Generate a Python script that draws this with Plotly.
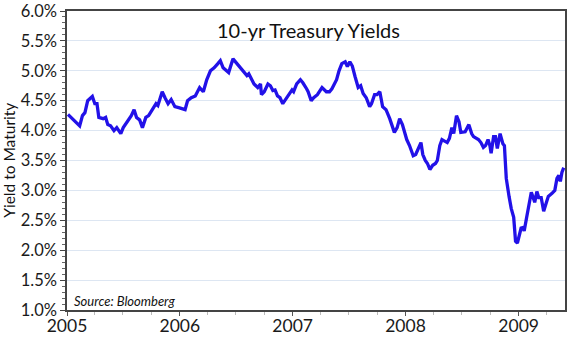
import plotly.graph_objects as go

# Weekly 10-year Treasury yields (%)
dates = [
    "2005-01-04", "2005-02-05", "2005-02-11", "2005-02-20", "2005-02-28", "2005-03-09",
    "2005-03-24", "2005-04-01", "2005-04-08", "2005-04-14", "2005-04-28", "2005-05-06",
    "2005-05-13", "2005-05-22", "2005-06-02", "2005-06-11", "2005-06-24", "2005-07-02",
    "2005-07-16", "2005-07-28", "2005-08-06", "2005-08-14", "2005-08-24", "2005-09-02",
    "2005-09-13", "2005-09-22", "2005-10-04", "2005-10-16", "2005-10-22", "2005-10-31",
    "2005-11-05", "2005-11-14", "2005-11-24", "2005-12-04", "2005-12-16", "2005-12-31",
    "2006-01-18", "2006-01-26", "2006-02-07", "2006-02-20", "2006-03-06", "2006-03-18",
    "2006-03-29", "2006-04-10", "2006-04-22", "2006-05-04", "2006-05-12", "2006-05-21",
    "2006-06-02", "2006-06-08", "2006-06-22", "2006-07-04", "2006-07-13", "2006-07-25",
    "2006-08-06", "2006-08-12", "2006-08-29", "2006-09-10", "2006-09-19", "2006-09-22",
    "2006-10-01", "2006-10-13", "2006-10-21", "2006-10-29", "2006-11-05", "2006-11-13",
    "2006-11-21", "2006-11-30", "2006-12-12", "2006-12-21", "2006-12-30", "2007-01-04",
    "2007-01-14", "2007-01-26", "2007-02-03", "2007-02-15", "2007-02-20", "2007-03-02",
    "2007-03-10", "2007-03-22", "2007-04-06", "2007-04-20", "2007-04-30", "2007-05-08",
    "2007-05-23", "2007-05-31", "2007-06-09", "2007-06-20", "2007-06-27", "2007-07-05",
    "2007-07-13", "2007-07-22", "2007-08-01", "2007-08-09", "2007-08-17", "2007-08-27",
    "2007-09-07", "2007-09-13", "2007-09-23", "2007-10-01", "2007-10-10", "2007-10-19",
    "2007-10-30", "2007-11-11", "2007-11-17", "2007-11-26", "2007-12-05", "2007-12-13",
    "2007-12-22", "2008-01-05", "2008-01-14", "2008-01-26", "2008-02-03", "2008-02-11",
    "2008-02-20", "2008-02-26", "2008-03-05", "2008-03-12", "2008-03-20", "2008-03-29",
    "2008-04-07", "2008-04-13", "2008-04-21", "2008-04-28", "2008-05-06", "2008-05-15",
    "2008-05-22", "2008-05-30", "2008-06-05", "2008-06-14", "2008-06-22", "2008-06-28",
    "2008-07-12", "2008-07-24", "2008-08-02", "2008-08-08", "2008-08-24", "2008-09-01",
    "2008-09-09", "2008-09-16", "2008-09-24", "2008-09-30", "2008-10-04", "2008-10-12",
    "2008-10-18", "2008-10-24", "2008-11-02", "2008-11-11", "2008-11-16", "2008-11-22",
    "2008-12-01", "2008-12-08", "2008-12-16", "2008-12-22", "2008-12-28", "2009-01-05",
    "2009-01-09", "2009-01-15", "2009-01-19", "2009-01-27", "2009-02-05", "2009-02-11",
    "2009-02-19", "2009-02-22", "2009-03-01", "2009-03-07", "2009-03-15", "2009-03-23",
    "2009-04-01", "2009-04-07", "2009-04-19", "2009-04-28", "2009-05-05", "2009-05-11",
    "2009-05-16", "2009-05-21", "2009-05-27",
]
yields = [
    4.27, 4.10, 4.08, 4.25, 4.30, 4.50,
    4.57, 4.45, 4.45, 4.22, 4.20, 4.22,
    4.10, 4.08, 4.00, 4.05, 3.95, 4.05,
    4.15, 4.25, 4.35, 4.22, 4.18, 4.05,
    4.22, 4.25, 4.35, 4.45, 4.42, 4.60,
    4.65, 4.55, 4.45, 4.52, 4.40, 4.38,
    4.35, 4.50, 4.55, 4.58, 4.72, 4.65,
    4.85, 5.00, 5.05, 5.12, 5.17, 5.05,
    5.00, 4.97, 5.20, 5.12, 5.08, 5.00,
    4.92, 4.95, 4.78, 4.72, 4.78, 4.60,
    4.65, 4.78, 4.75, 4.67, 4.68, 4.58,
    4.55, 4.45, 4.55, 4.60, 4.68, 4.65,
    4.78, 4.85, 4.80, 4.70, 4.65, 4.50,
    4.55, 4.60, 4.72, 4.65, 4.65, 4.70,
    4.85, 5.00, 5.12, 5.15, 5.07, 5.15,
    5.08, 4.90, 4.72, 4.75, 4.62, 4.55,
    4.40, 4.45, 4.60, 4.60, 4.65, 4.40,
    4.35, 4.20, 4.10, 3.97, 4.05, 4.20,
    4.10, 3.85, 3.75, 3.58, 3.60, 3.70,
    3.80, 3.60, 3.50, 3.45, 3.35, 3.42,
    3.45, 3.50, 3.75, 3.85, 3.82, 3.80,
    3.87, 4.05, 3.95, 4.25, 4.15, 3.97,
    3.98, 4.10, 3.95, 3.90, 3.85, 3.80,
    3.72, 3.75, 3.85, 3.75, 3.62, 3.90,
    3.90, 3.70, 3.95, 3.78, 3.75, 3.20,
    2.90, 2.70, 2.55, 2.15, 2.12, 2.30,
    2.37, 2.38, 2.32, 2.55, 2.85, 2.97,
    2.85, 2.80, 2.98, 2.88, 2.88, 2.65,
    2.80, 2.90, 2.95, 3.00, 3.20, 3.25,
    3.15, 3.30, 3.38,
]

year_ticks = ["2005-01-01", "2006-01-01", "2007-01-01", "2008-01-01", "2009-01-01"]
year_labels = ["2005", "2006", "2007", "2008", "2009"]
y_ticks = [1.0, 1.5, 2.0, 2.5, 3.0, 3.5, 4.0, 4.5, 5.0, 5.5, 6.0]
y_labels = ["1.0%", "1.5%", "2.0%", "2.5%", "3.0%", "3.5%", "4.0%", "4.5%", "5.0%", "5.5%", "6.0%"]

FONT = "Lato"

fig = go.Figure()
fig.add_trace(go.Scatter(
    x=dates, y=yields, mode="lines",
    line=dict(color="#2211e8", width=3.3),
    hoverinfo="skip",
))

fig.update_layout(
    width=569, height=338,
    margin=dict(l=67, r=4, t=11, b=28),
    paper_bgcolor="white", plot_bgcolor="white",
    showlegend=False,
    font=dict(family=FONT, color="#1a1a1a"),
)

fig.update_xaxes(
    range=["2005-01-01", "2009-05-31"],
    automargin=False,
    tickmode="array", tickvals=year_ticks, ticktext=year_labels,
    tickfont=dict(size=17.5, family=FONT),
    ticks="outside", ticklen=4, tickcolor="#555",
    ticklabelstandoff=-5,
    minor=dict(dtick="M3", tick0="2005-01-01", ticks="outside", ticklen=3, tickcolor="#bbb"),
    showgrid=False, zeroline=False,
    showline=True, linecolor="#444", linewidth=1.5, mirror=True,
)

fig.update_yaxes(
    range=[1.0, 6.0],
    automargin=False,
    tickmode="array", tickvals=y_ticks, ticktext=y_labels,
    tickfont=dict(size=16.5, family=FONT),
    ticks="outside", ticklen=5, tickcolor="#444",
    minor=dict(dtick=0.1, tick0=1.0, ticks="outside", ticklen=3, tickcolor="#666", showgrid=False),
    showgrid=True, gridcolor="#dde6f2", gridwidth=1,
    zeroline=False,
    showline=True, linecolor="#444", linewidth=1.5, mirror=True,
)

fig.add_annotation(
    text="10-yr Treasury Yields", xref="paper", yref="paper",
    x=0.485, y=0.935, xanchor="center", yanchor="middle",
    showarrow=False, font=dict(size=20, family=FONT, color="#111"),
)
fig.add_annotation(
    text="Yield to Maturity", xref="paper", yref="paper",
    x=-0.118, y=0.5, xanchor="center", yanchor="middle", textangle=-90,
    showarrow=False, font=dict(size=15.5, family=FONT, color="#111"),
)
fig.add_annotation(
    text="<i>Source: Bloomberg</i>", xref="paper", yref="paper",
    x=0.01, y=0.03, xanchor="left", yanchor="middle",
    showarrow=False, font=dict(size=13, family=FONT, color="#111"),
)

fig.write_html("out.html")
